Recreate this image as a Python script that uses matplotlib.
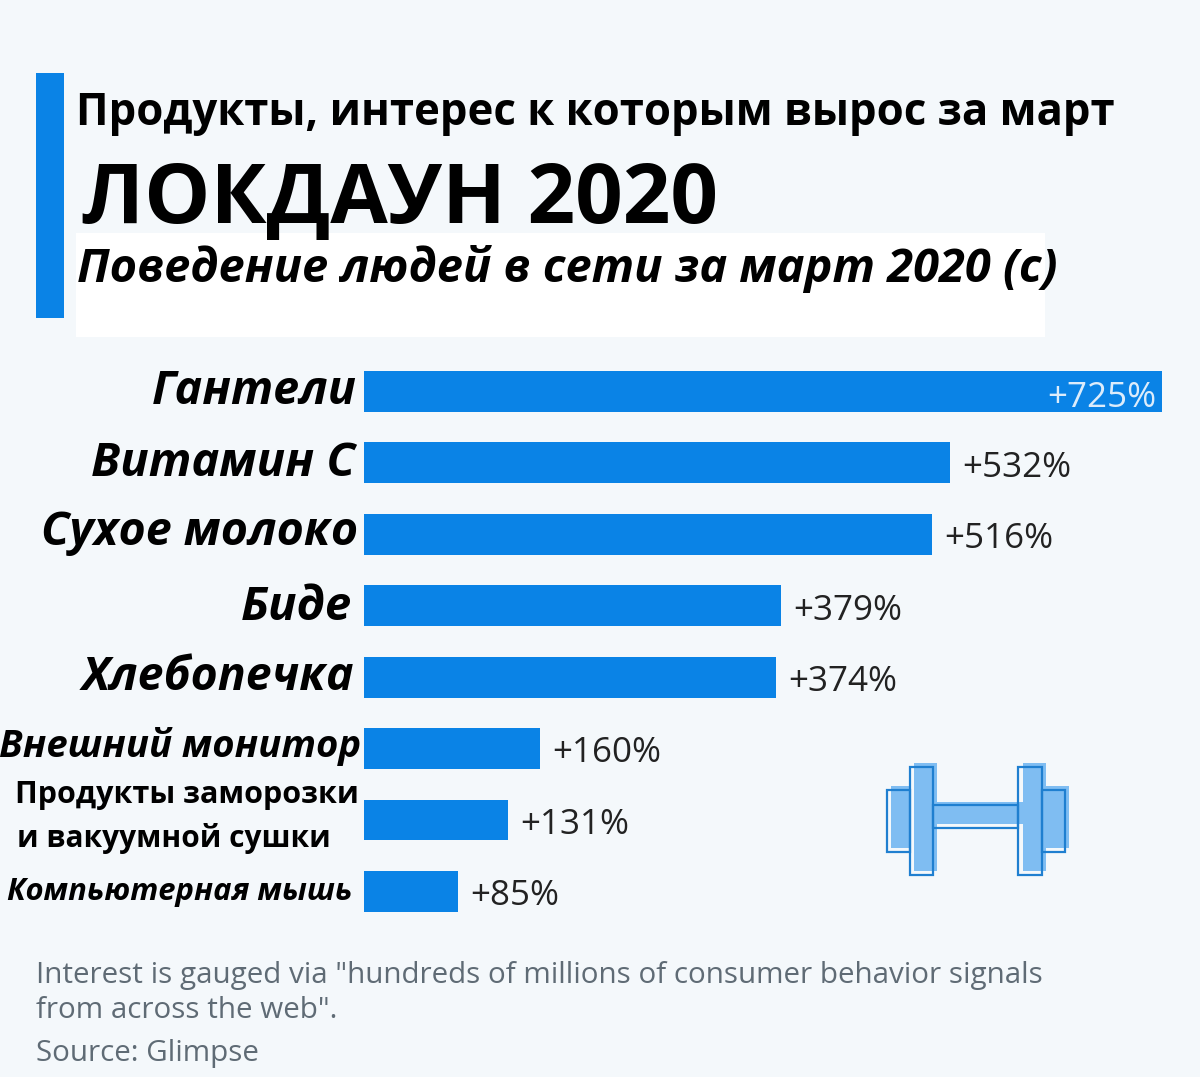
import matplotlib
matplotlib.use('Agg')
import matplotlib.pyplot as plt
from matplotlib.patches import Rectangle

W, H = 1200, 1077

products = ['Гантели', 'Витамин С', 'Сухое молоко', 'Биде', 'Хлебопечка',
            'Внешний монитор', 'Продукты заморозки', 'Компьютерная мышь']
growth = [725, 532, 516, 379, 374, 160, 131, 85]
value_labels = ['+725%', '+532%', '+516%', '+379%', '+374%', '+160%', '+131%', '+85%']

blue = '#0a83e6'
bg = '#f4f8fb'

plt.rcParams['font.family'] = ['Open Sans', 'DejaVu Sans']

fig = plt.figure(figsize=(W / 100, H / 100), dpi=100, facecolor=bg)

# page layer in pixels, y going down like the picture
page = fig.add_axes([0, 0, 1, 1])
page.set_xlim(0, W)
page.set_ylim(H, 0)
page.axis('off')

page.add_patch(Rectangle((36, 73), 28, 245, color=blue, lw=0))
page.add_patch(Rectangle((76, 233), 969, 104, color='white', lw=0))

page.text(76, 114, 'Продукты, интерес к которым вырос за март', fontsize=31.5,
          fontweight='bold', va='center', color='black')
page.text(82, 201, 'ЛОКДАУН 2020', fontsize=60, fontweight='bold', va='center', color='black')
page.text(77, 269, 'Поведение людей в сети за март 2020 (с)', fontsize=33.8,
          fontweight='bold', style='italic', va='center', color='black')

# bars: axis spans 364..1162 px for 0..725, rows 71.43 px apart
ax = fig.add_axes([364 / W, 1 - 934.4 / H, (1162 - 364) / W, (934.4 - 362.8) / H])
ax.patch.set_alpha(0)
ypos = list(range(len(growth)))
ax.barh(ypos, growth, height=0.57, color=blue)
ax.set_xlim(0, 725)
ax.set_ylim(7.6, -0.4)
ax.axis('off')

for i, (v, lab) in enumerate(zip(growth, value_labels)):
    if i == 0:
        ax.annotate(lab, (v, i), xytext=(-4, -4.5), textcoords='offset points',
                    ha='right', va='center', fontsize=25.2, color='#dcecfb')
    else:
        ax.annotate(lab, (v, i), xytext=(9, -3.5), textcoords='offset points',
                    ha='left', va='center', fontsize=25.2, color='#222222')

# category labels, hand placed sizes as in the original
cat_x = [357, 355, 358, 352, 354, 361, 359, 352]
cat_y = [391, 463, 533, 607, 677, 746, 795, 892]
cat_fs = [33.6, 33.9, 33.6, 34, 33.4, 27.5, 22, 22.3]
for i, name in enumerate(products):
    st = 'normal' if i == 6 else 'italic'
    page.text(cat_x[i], cat_y[i], name, ha='right', va='center', fontsize=cat_fs[i],
              fontweight='bold', style=st, color='black')
page.text(17, 839, 'и вакуумной сушки', ha='left', va='center', fontsize=21.5,
          fontweight='bold', color='black')

# dumbbell icon: offset fill with an outline on top
light = '#7fbdf2'
edge = '#1f7fd0'
for x, y, w, h in [(891, 786, 20, 62), (1045, 786, 24, 62), (914, 763, 23, 108),
                   (1023, 763, 23, 108), (937, 802, 86, 22)]:
    page.add_patch(Rectangle((x, y), w, h, color=light, lw=0))
for x, y, w, h in [(887, 790, 23, 62), (1042, 790, 23, 62), (910, 767, 23, 108),
                   (1018, 767, 24, 108), (933, 805, 85, 23)]:
    page.add_patch(Rectangle((x, y), w, h, fill=False, ec=edge, lw=1.6))

foot = '#5f6b75'
page.text(36, 975, 'Interest is gauged via "hundreds of millions of consumer behavior signals',
          fontsize=21.35, va='center', color=foot)
page.text(36, 1010, 'from across the web".', fontsize=21.35, va='center', color=foot)
page.text(36, 1053, 'Source: Glimpse', fontsize=21.35, va='center', color=foot)

fig.savefig('out.png', dpi=100, facecolor=bg)
